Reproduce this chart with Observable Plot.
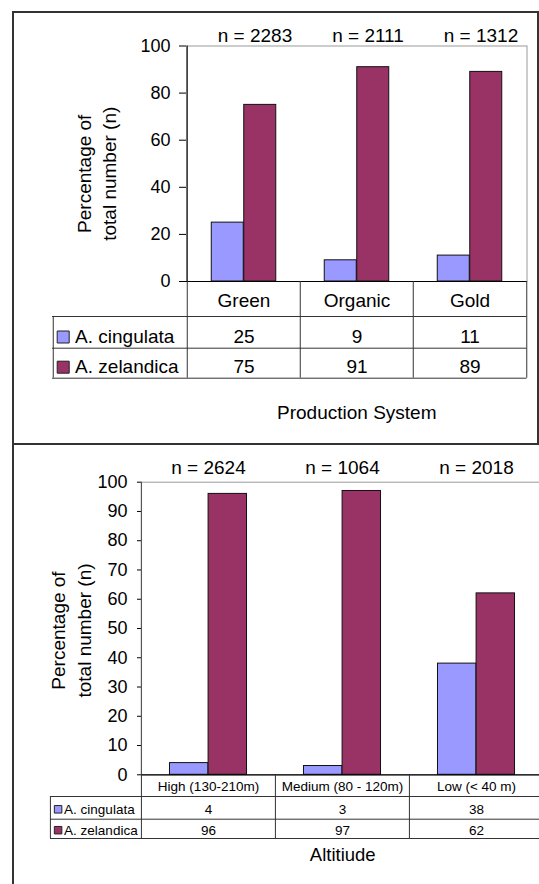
<!DOCTYPE html>
<html><head><meta charset="utf-8">
<script src="https://cdn.jsdelivr.net/npm/d3@7"></script>
<script src="https://cdn.jsdelivr.net/npm/@observablehq/plot@0.6"></script>
<style>
html,body{margin:0;padding:0;background:#fff;overflow:hidden;width:539px;height:884px;position:relative;}
.pane{position:absolute;left:0;}
.border{position:absolute;box-sizing:border-box;border:2px solid #333;z-index:5;pointer-events:none;}
</style></head><body>
<div id="p1" class="pane" style="top:0px"></div>
<div id="p2" class="pane" style="top:444px"></div>
<div class="border" style="left:12px;top:11px;width:527px;height:434px;"></div>
<div class="border" style="left:12px;top:443px;width:600px;height:500px;"></div>
<script>
// ---- data ----
const species = ["A. cingulata", "A. zelandica"];
const speciesColors = ["#9999FF", "#993366"];

const systems = ["Green", "Organic", "Gold"];
const systemN = ["n = 2283", "n = 2111", "n = 1312"];
const cingulataSystem = [25, 9, 11];
const zelandicaSystem = [75, 91, 89];
const systemTicks = [0, 20, 40, 60, 80, 100];

const altitudes = ["High (130-210m)", "Medium (80 - 120m)", "Low (< 40 m)"];
const altitudeN = ["n = 2624", "n = 1064", "n = 2018"];
const cingulataAltitude = [4, 3, 38];
const zelandicaAltitude = [96, 97, 62];
const altitudeTicks = [0, 10, 20, 30, 40, 50, 60, 70, 80, 90, 100];

const yLabel = "Percentage of\ntotal number (n)";
const FONT = "'Liberation Sans', Arial, Helvetica, sans-serif";

function panel(o) {
  const n = o.categories.length;
  const bw = (o.right - o.left) / n;
  const half = bw / 2;
  const fH = o.bottom - o.top;
  const tH = o.rowLines[o.rowLines.length - 1];
  const marks = [];
  marks.push(Plot.frame({stroke: "#9a9a9a", strokeWidth: 1}));
  o.series.forEach((vals, s) => {
    const data = o.categories.map((c, i) => ({cat: c, v: vals[i]}));
    marks.push(Plot.barY(data, {
      x: "cat", y: "v", fill: speciesColors[s], stroke: "#111", strokeWidth: 1,
      insetLeft: s === 0 ? half - o.barW : half,
      insetRight: s === 0 ? half : half - o.barW
    }));
  });
  // left axis line (plot area)
  marks.push(Plot.ruleX([o.categories[0]], {x: d => d, dx: -half, stroke: o.axisColor, strokeWidth: 1.2}));
  // zero line
  marks.push(Plot.ruleY([0], {stroke: "#000", strokeWidth: 1.2}));
  // table vertical lines
  marks.push(Plot.ruleX(o.categories, {x: d => d, dx: -half, insetTop: fH, insetBottom: -tH, stroke: "#333"}));
  marks.push(Plot.ruleX([o.categories[n - 1]], {x: d => d, dx: half, insetTop: fH, insetBottom: -tH, stroke: "#333"}));
  marks.push(Plot.ruleX([o.categories[0]], {x: d => d, dx: -half + (o.legendLeft - o.left), insetTop: fH + o.rowLines[0], insetBottom: -tH, stroke: "#333"}));
  // table horizontal lines
  o.rowLines.forEach(off => {
    marks.push(Plot.ruleY([0], {dy: off, insetLeft: o.legendLeft - o.left, stroke: "#333"}));
  });
  // category row
  marks.push(Plot.text(o.categories, {x: d => d, frameAnchor: "bottom", lineAnchor: "middle", dy: o.rowText[0], fontSize: o.tableFont, fill: "#000"}));
  // value rows + legend
  o.series.forEach((vals, s) => {
    const data = o.categories.map((c, i) => ({cat: c, v: vals[i]}));
    marks.push(Plot.text(data, {x: "cat", text: d => String(d.v), frameAnchor: "bottom", lineAnchor: "middle", dy: o.rowText[s + 1], fontSize: o.tableFont, fill: "#000"}));
    marks.push(Plot.dot([species[s]], {frameAnchor: "bottom-left", dx: o.swatchX - o.left, dy: o.rowText[s + 1] + o.swatchDy,
      symbol: "square", r: o.swatch / Math.sqrt(Math.PI), fill: speciesColors[s], stroke: "#222", strokeWidth: 1}));
    marks.push(Plot.text([species[s]], {frameAnchor: "bottom-left", lineAnchor: "middle", dx: o.labelX - o.left, dy: o.rowText[s + 1],
      textAnchor: "start", fontSize: o.tableFont, fill: "#000"}));
  });
  // n labels
  marks.push(Plot.text(o.categories, {x: d => d, text: (d, i) => o.nLabels[i], frameAnchor: "top", lineAnchor: "bottom",
    dx: o.nDx, dy: o.nDy, fontSize: o.nFont, fill: "#000"}));
  // y label
  marks.push(Plot.text([yLabel], {frameAnchor: "left", textAnchor: "middle", lineAnchor: "middle", rotate: -90,
    dx: o.yLabelX - o.left, dy: o.yLabelDy,
    lineHeight: o.yLabelSpacing / o.yLabelFont, fontSize: o.yLabelFont, fill: "#000"}));
  // x title
  marks.push(Plot.text([o.title], {frameAnchor: "bottom", lineAnchor: "middle", dy: o.titleDy, fontSize: o.titleFont, fill: "#000"}));

  return Plot.plot({
    width: o.width, height: o.height,
    marginLeft: o.left, marginRight: o.width - o.right, marginTop: o.top, marginBottom: o.height - o.bottom,
    x: {domain: o.categories, padding: 0, axis: null},
    y: {domain: [0, 100], ticks: o.ticks, tickSize: o.tickSize, tickPadding: o.tickPadding, label: null},
    style: {fontFamily: FONT, fontSize: o.tickFont + "px", color: "#000", background: "transparent", maxWidth: "none", overflow: "visible"},
    marks
  });
}

document.getElementById("p1").append(panel({
  width: 539, height: 444, left: 186, right: 526.5, top: 45.5, bottom: 281,
  categories: systems, nLabels: systemN, series: [cingulataSystem, zelandicaSystem],
  ticks: systemTicks, tickSize: 7, tickPadding: 9, tickFont: 18,
  barW: 32.5, rowLines: [35, 66.7, 96.7], rowText: [19.8, 55.5, 85.7],
  legendLeft: 52, labelX: 74.6, swatchX: 62.7, swatch: 12, swatchDy: 0, tableFont: 19,
  nDx: 11, nDy: -4.5, nFont: 19,
  yLabelX: 94.5, yLabelDy: 10, yLabelSpacing: 25, yLabelFont: 19,
  title: "Production System", titleDy: 131.7, titleFont: 19, axisColor: "#222"
}));

document.getElementById("p2").append(panel({
  width: 545, height: 440, left: 141, right: 543.5, top: 37.7, bottom: 330.3,
  categories: altitudes, nLabels: altitudeN, series: [cingulataAltitude, zelandicaAltitude],
  ticks: altitudeTicks, tickSize: 4, tickPadding: 10, tickFont: 18,
  barW: 38.6, rowLines: [21.7, 44.4, 63.7], rowText: [12, 34.5, 55.4],
  legendLeft: 50, labelX: 63.6, swatchX: 57.6, swatch: 7.5, swatchDy: 0, tableFont: 13.5,
  nDx: 0, nDy: -8.4, nFont: 19,
  yLabelX: 69, yLabelDy: 2, yLabelSpacing: 26, yLabelFont: 19,
  title: "Altitiude", titleDy: 80.7, titleFont: 18.5, axisColor: "#555"
}));
</script>
</body></html>
